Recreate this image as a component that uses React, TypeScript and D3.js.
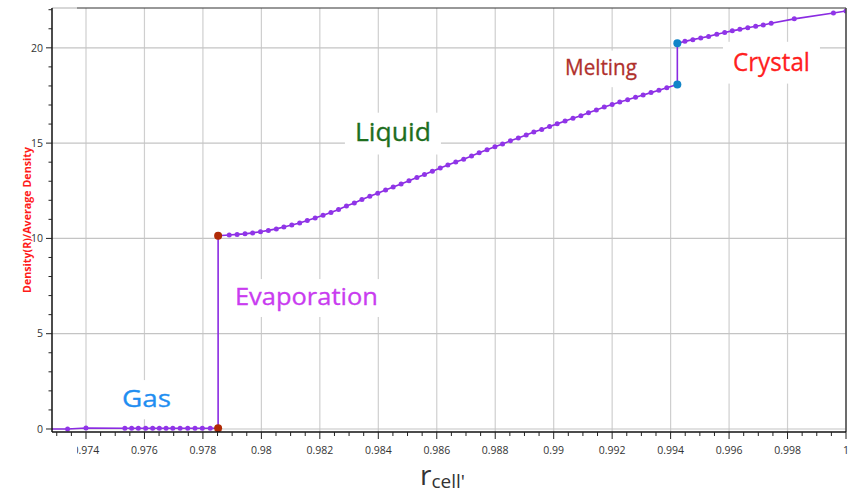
import React, { useEffect, useRef } from "react";
import * as d3 from "d3";

const W = 848;
const H = 494;

// Gas branch (density ~ 0 below the evaporation radius)
const gasR = [0.9727, 0.97337, 0.974, 0.97533, 0.97556, 0.97579, 0.97604, 0.97628, 0.97651, 0.97674, 0.97697, 0.97722, 0.97748, 0.97773, 0.97798, 0.97825];
const gasDensity = [0.0, 0.0, 0.05, 0.04, 0.04, 0.04, 0.04, 0.04, 0.04, 0.04, 0.04, 0.04, 0.04, 0.04, 0.04, 0.04];

// Evaporation jump
const evapR = 0.97852;
const evapDensity = [0.04, 10.14];

// Liquid branch
const liquidR = [
  0.9789, 0.97917, 0.97944, 0.9797, 0.97997, 0.98024, 0.98051, 0.98077, 0.98104, 0.98131,
  0.98157, 0.98184, 0.98211, 0.98238, 0.98264, 0.98291, 0.98318, 0.98344, 0.98371, 0.98398,
  0.98425, 0.98451, 0.98478, 0.98505, 0.98532, 0.98558, 0.98585, 0.98612, 0.98638, 0.98665,
  0.98692, 0.98719, 0.98745, 0.98772, 0.98799, 0.98825, 0.98852, 0.98879, 0.98906, 0.98932,
  0.98959, 0.98986, 0.99012, 0.99039, 0.99066, 0.99093, 0.99119, 0.99146, 0.99173, 0.992,
  0.99226, 0.99253, 0.9928, 0.99306, 0.99333, 0.9936, 0.99387,
];
const liquidDensity = [
  10.18, 10.21, 10.24, 10.29, 10.35, 10.42, 10.5, 10.6, 10.7, 10.81,
  10.94, 11.07, 11.21, 11.36, 11.52, 11.7, 11.86, 12.04, 12.21, 12.37,
  12.54, 12.7, 12.86, 13.03, 13.19, 13.35, 13.52, 13.69, 13.85, 14.01,
  14.16, 14.32, 14.49, 14.65, 14.81, 14.96, 15.12, 15.27, 15.43, 15.58,
  15.72, 15.87, 16.01, 16.16, 16.3, 16.44, 16.59, 16.74, 16.89, 17.03,
  17.16, 17.28, 17.41, 17.53, 17.65, 17.78, 17.9,
];

// Melting jump
const meltR = 0.99423;
const meltDensity = [18.08, 20.24];

// Crystal branch
const crystalR = [0.99449, 0.99476, 0.99503, 0.9953, 0.99558, 0.99585, 0.99611, 0.99637, 0.99664, 0.99691, 0.99717, 0.99744, 0.99823, 0.99957, 1.0];
const crystalDensity = [20.34, 20.43, 20.52, 20.6, 20.71, 20.8, 20.89, 20.97, 21.05, 21.13, 21.2, 21.29, 21.52, 21.83, 21.93];

const xTicks = [0.974, 0.976, 0.978, 0.98, 0.982, 0.984, 0.986, 0.988, 0.99, 0.992, 0.994, 0.996, 0.998, 1];
const yTicks = [0, 5, 10, 15, 20];

const phaseNames = ["Gas", "Evaporation", "Liquid", "Melting", "Crystal"];

type Pt = [number, number];

export default function App() {
  const ref = useRef<SVGSVGElement | null>(null);

  useEffect(() => {
    const svg = d3.select(ref.current);
    svg.selectAll("*").remove();

    const left = 52, right = 846, top = 8, bottom = 432;
    const x = d3.scaleLinear().domain([0.972837, 1.0]).range([left, right]);
    const y = d3.scaleLinear().domain([-0.158, 22.09]).range([bottom, top]);

    const font = "'Open Sans', 'Noto Sans', sans-serif";

    svg.append("rect").attr("width", W).attr("height", H).attr("fill", "#fff");

    const defs = svg.append("defs");
    defs.append("clipPath").attr("id", "plotClip")
      .append("rect").attr("x", left).attr("y", top).attr("width", right - left).attr("height", bottom - top);
    defs.append("clipPath").attr("id", "tickClip")
      .append("rect").attr("x", 77).attr("y", 0).attr("width", W).attr("height", H);

    // grid
    const grid = svg.append("g");
    grid.selectAll("line.v").data(xTicks).join("line")
      .attr("x1", (d) => x(d)).attr("x2", (d) => x(d))
      .attr("y1", top).attr("y2", bottom)
      .attr("stroke", "#cfcfcf").attr("stroke-width", 1.2);
    grid.selectAll("line.h").data(yTicks).join("line")
      .attr("x1", left).attr("x2", right)
      .attr("y1", (d) => y(d)).attr("y2", (d) => y(d))
      .attr("stroke", "#c4c4c4").attr("stroke-width", 1.2);

    // phase labels on white boxes
    const labelLayout = [
      { r: 0.97607, v: 1.16, size: 24, len: 49, color: "#1f8ef1" },
      { r: 0.98154, v: 6.51, size: 23, len: 143, color: "#c93cf0" },
      { r: 0.9845, v: 15.09, size: 26, len: 76, color: "#1e6e1e" },
      { r: 0.99162, v: 18.55, size: 22, len: 72, color: "#b0302c" },
      { r: 0.99745, v: 18.81, size: 26, len: 77, color: "#ff2020" },
    ];
    const labels = svg.append("g");
    phaseNames.forEach((name, i) => {
      const L = labelLayout[i];
      const cx = x(L.r);
      const by = y(L.v);
      labels.append("rect")
        .attr("x", cx - L.len / 2 - 10).attr("y", by - L.size * 0.95 - 4)
        .attr("width", L.len + 20).attr("height", L.size * 1.3 + 8)
        .attr("fill", "#fff");
      labels.append("text")
        .attr("x", cx).attr("y", by)
        .attr("text-anchor", "middle")
        .attr("font-family", font).attr("font-size", L.size)
        .attr("textLength", L.len).attr("lengthAdjust", "spacingAndGlyphs")
        .attr("stroke", L.color).attr("stroke-width", 0.3)
        .attr("fill", L.color).text(name);
    });

    // data line
    const pts: Pt[] = [
      ...gasR.map((r, i) => [r, gasDensity[i]] as Pt),
      [evapR, evapDensity[0]], [evapR, evapDensity[1]],
      ...liquidR.map((r, i) => [r, liquidDensity[i]] as Pt),
      [meltR, meltDensity[0]], [meltR, meltDensity[1]],
      ...crystalR.map((r, i) => [r, crystalDensity[i]] as Pt),
    ];
    const line = d3.line<Pt>().x((d) => x(d[0])).y((d) => y(d[1]));
    const plot = svg.append("g").attr("clip-path", "url(#plotClip)");
    plot.append("path").attr("d", line(pts) as string)
      .attr("fill", "none").attr("stroke", "#8a2be2").attr("stroke-width", 1.6);

    const small: Pt[] = [
      ...gasR.map((r, i) => [r, gasDensity[i]] as Pt),
      ...liquidR.map((r, i) => [r, liquidDensity[i]] as Pt),
      ...crystalR.map((r, i) => [r, crystalDensity[i]] as Pt),
    ];
    plot.selectAll("circle.s").data(small).join("circle")
      .attr("cx", (d) => x(d[0])).attr("cy", (d) => y(d[1])).attr("r", 2.5)
      .attr("fill", "#9035e8");
    plot.selectAll("circle.e").data(evapDensity).join("circle")
      .attr("cx", x(evapR)).attr("cy", (d) => y(d)).attr("r", 4)
      .attr("fill", "#b02a06");
    plot.selectAll("circle.m").data(meltDensity).join("circle")
      .attr("cx", x(meltR)).attr("cy", (d) => y(d)).attr("r", 4)
      .attr("fill", "#1185c8");

    // frame
    svg.append("line").attr("x1", left).attr("x2", 77).attr("y1", top).attr("y2", top)
      .attr("stroke", "#bdbdbd").attr("stroke-width", 1.2);
    svg.append("line").attr("x1", 77).attr("x2", right).attr("y1", top).attr("y2", top)
      .attr("stroke", "#333").attr("stroke-width", 1.2);
    svg.append("line").attr("x1", right).attr("x2", right).attr("y1", top).attr("y2", bottom)
      .attr("stroke", "#444").attr("stroke-width", 1.5);

    // y axis
    const yAxis = svg.append("g");
    yAxis.append("line").attr("x1", left).attr("x2", left).attr("y1", top).attr("y2", bottom)
      .attr("stroke", "#111").attr("stroke-width", 1.5);
    const yMinor = d3.range(0, 23, 1);
    yAxis.selectAll("line.t").data(yMinor).join("line")
      .attr("x1", (d) => (d % 5 === 0 ? left - 6 : left - 3.5)).attr("x2", left)
      .attr("y1", (d) => y(d)).attr("y2", (d) => y(d))
      .attr("stroke", "#222").attr("stroke-width", 1);
    yAxis.selectAll("text").data(yTicks).join("text")
      .attr("x", left - 9).attr("y", (d) => y(d)).attr("dy", "0.35em")
      .attr("text-anchor", "end").attr("font-family", font).attr("font-size", 10.5)
      .attr("fill", "#333").text((d) => String(d));

    // x axis
    const xAxis = svg.append("g");
    xAxis.append("line").attr("x1", left).attr("x2", right).attr("y1", bottom).attr("y2", bottom)
      .attr("stroke", "#111").attr("stroke-width", 1.5);
    const xMinor = d3.range(0, 55).map((i) => 0.973 + i * 0.0005).filter((v) => v >= 0.97284 && v <= 1.00001);
    xAxis.selectAll("line.t").data(xMinor).join("line")
      .attr("x1", (d) => x(d)).attr("x2", (d) => x(d))
      .attr("y1", bottom)
      .attr("y2", (d) => (Math.round(d * 1000) % 2 === 0 && Math.abs(d * 1000 - Math.round(d * 1000)) < 1e-6 ? bottom + 7 : bottom + 4))
      .attr("stroke", "#222").attr("stroke-width", 1);
    xAxis.append("g").attr("clip-path", "url(#tickClip)")
      .selectAll("text").data(xTicks).join("text")
      .attr("x", (d) => x(d)).attr("y", 454)
      .attr("text-anchor", "middle").attr("font-family", font).attr("font-size", 10.5)
      .attr("fill", "#333").text((d) => String(d));

    // axis titles
    svg.append("text")
      .attr("transform", `translate(31,220) rotate(-90)`)
      .attr("text-anchor", "middle").attr("font-family", font).attr("font-size", 10.5)
      .attr("font-weight", 700).attr("fill", "#ff1a1a")
      .attr("textLength", 146).attr("lengthAdjust", "spacingAndGlyphs")
      .text("Density(R)/Average Density");

    const xt = svg.append("text").attr("x", 420).attr("y", 485)
      .attr("font-family", font).attr("fill", "#333");
    xt.append("tspan").attr("font-size", 28).text("r");
    xt.append("tspan").attr("font-size", 19).attr("dy", 3).text("cell'");
  }, []);

  return (
    <svg ref={ref} width={W} height={H} style={{ position: "absolute", left: 0, top: 0 }} />
  );
}
